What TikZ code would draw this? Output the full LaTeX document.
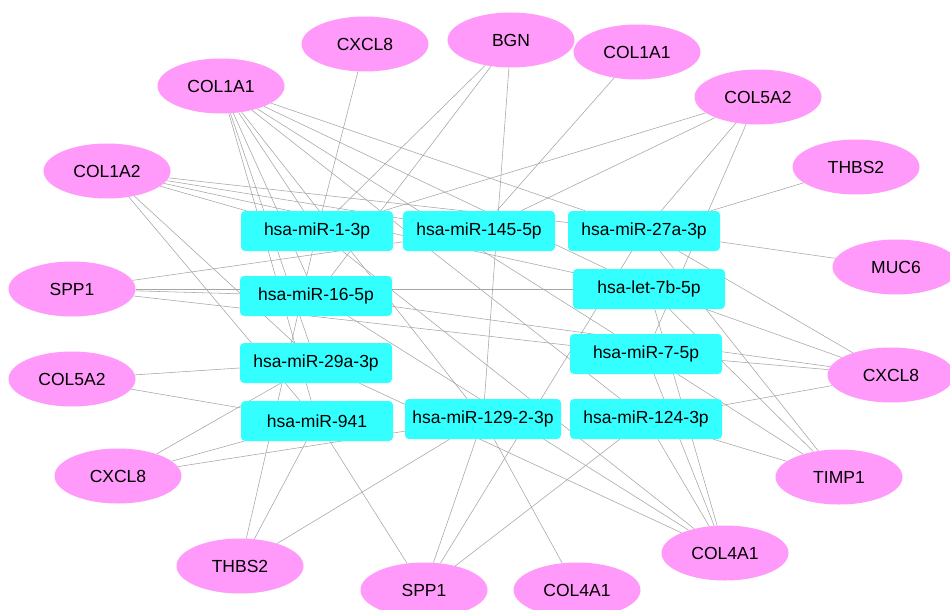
\documentclass[tikz,border=0pt]{standalone}
\usepackage{fontspec}
\setmainfont{Liberation Sans}
\usetikzlibrary{shapes.geometric,backgrounds}
\definecolor{genepink}{RGB}{255,153,250}
\definecolor{mircyan}{RGB}{51,255,255}
\definecolor{edgegray}{RGB}{165,165,165}
\tikzset{
  gene/.style={ellipse,fill=genepink,draw=none,minimum width=127pt,minimum height=55pt,inner sep=0pt,font=\fontsize{17.5}{20}\selectfont},
  mir/.style={rectangle,rounded corners=4pt,fill=mircyan,draw=none,minimum width=152pt,minimum height=40pt,inner sep=0pt,font=\fontsize{17.5}{20}\selectfont},
  link/.style={draw=edgegray,line width=0.55pt}
}
\begin{document}
\begin{tikzpicture}[x=1pt,y=-1pt]
\useasboundingbox (0,0) rectangle (950,610);
\clip (0,0) rectangle (950,610);
% genes
\node[gene] (e1) at (365,44) {CXCL8};
\node[gene] (e2) at (511,40) {BGN};
\node[gene] (e3) at (637,52) {COL1A1};
\node[gene] (e4) at (221,86) {COL1A1};
\node[gene] (e5) at (758,97) {COL5A2};
\node[gene] (e6) at (107,171) {COL1A2};
\node[gene] (e7) at (856,167) {THBS2};
\node[gene] (e8) at (896,267) {MUC6};
\node[gene] (e9) at (72,289) {SPP1};
\node[gene] (e10) at (891,375) {CXCL8};
\node[gene] (e11) at (72,379) {COL5A2};
\node[gene] (e12) at (118,476) {CXCL8};
\node[gene] (e13) at (839,477) {TIMP1};
\node[gene] (e14) at (725,553) {COL4A1};
\node[gene] (e15) at (240,566) {THBS2};
\node[gene] (e16) at (424,590) {SPP1};
\node[gene] (e17) at (577,590) {COL4A1};
% miRNAs
\node[mir] (m1) at (317,231) {hsa-miR-1-3p};
\node[mir] (m145) at (479,231) {hsa-miR-145-5p};
\node[mir] (m27) at (644,231) {hsa-miR-27a-3p};
\node[mir] (let7) at (649,289) {hsa-let-7b-5p};
\node[mir] (m16) at (316,296) {hsa-miR-16-5p};
\node[mir] (m7) at (646,354) {hsa-miR-7-5p};
\node[mir] (m29) at (316,363) {hsa-miR-29a-3p};
\node[mir] (m941) at (317,421) {hsa-miR-941};
\node[mir,minimum width=156pt] (m129) at (483,419) {hsa-miR-129-2-3p};
\node[mir] (m124) at (646,419) {hsa-miR-124-3p};
\begin{pgfonlayer}{background}
\fill[white] (0,0) rectangle (950,610);
\foreach \g/\m in {
  e1/m1,
  e2/m1, e2/m16, e2/m129,
  e3/m145,
  e4/m941, e4/m29, e4/m16, e4/m1, e4/m129, e4/m124, e4/m7, e4/m27, e4/let7,
  e5/m1, e5/m145, e5/m27, e5/m7,
  e6/m27, e6/m145, e6/let7, e6/m1, e6/m29, e6/m941,
  e7/m27,
  e8/m27,
  e9/m145, e9/m16, e9/let7, e9/m7,
  e10/m27, e10/let7, e10/m16, e10/m7, e10/m124,
  e11/m29, e11/m941,
  e12/m29, e12/m941, e12/m129,
  e13/m27, e13/let7, e13/m7, e13/m124,
  e14/m29, e14/m16, e14/m1, e14/m124, e14/m7, e14/let7,
  e15/m1, e15/m941, e15/m129,
  e16/m941, e16/m129, e16/m27, e16/m124,
  e17/m129}
  {\draw[link] (\g) -- (\m);}
\end{pgfonlayer}
\end{tikzpicture}
\end{document}
